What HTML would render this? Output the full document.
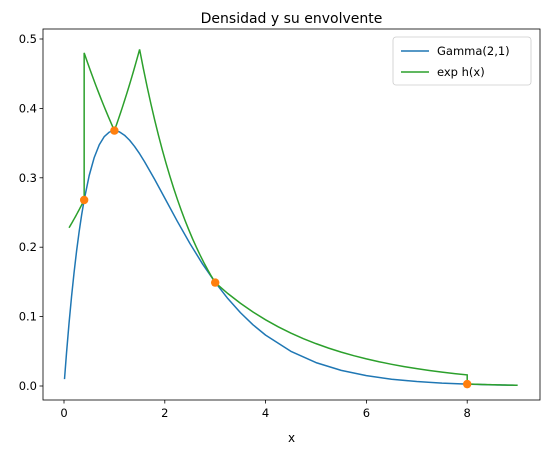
<!DOCTYPE html>
<html><head><meta charset="utf-8"><style>
body{margin:0;background:#fff}
svg text{font-family:"DejaVu Sans","Liberation Sans",sans-serif;fill:#000}
</style></head><body>
<svg id="c" width="547" height="455"></svg>
<script>
const blueX=[0.01,0.05,0.1,0.15,0.2,0.25,0.3,0.35,0.4,0.5,0.6,0.7,0.8,0.9,1.0,1.1,1.2,1.3,1.4,1.5,1.6,1.8,2.0,2.25,2.5,2.75,3.0,3.25,3.5,3.75,4.0,4.5,5.0,5.5,6,6.5,7,7.5,8,8.5,9];
const blueY=[0.0099,0.0476,0.0905,0.1291,0.1637,0.1947,0.2222,0.2466,0.2681,0.3033,0.3293,0.3476,0.3595,0.3659,0.3679,0.3662,0.3614,0.3543,0.3452,0.3347,0.3230,0.2975,0.2707,0.2371,0.2052,0.1757,0.1494,0.1260,0.1057,0.0882,0.0733,0.0500,0.0337,0.0225,0.0149,0.0098,0.0064,0.0041,0.0027,0.0017,0.0011];
const greenX=[0.1,0.4,0.4,1.0,1.5,3.0,8.0,8.0,9.0];
const greenY=[0.228,0.268,0.48,0.368,0.485,0.149,0.016,0.003,0.0011];
const ptX=[0.4,1,3,8];
const ptY=[0.268,0.368,0.149,0.0027];
const xTicks=[0,2,4,6,8];
const yTicks=[0.0,0.1,0.2,0.3,0.4,0.5];
const L=43,R=540,T=29,B=400;
const sx=x=>64+50.4*x, sy=y=>386-694*y;
const svg=document.getElementById('c');const NS='http://www.w3.org/2000/svg';
function mk(t,a,p){const e=document.createElementNS(NS,t);for(const k in a)e.setAttribute(k,a[k]);(p||svg).appendChild(e);return e;}
let e=mk('rect',{x:L,y:T,width:R-L,height:B-T,fill:'none',stroke:'#000','stroke-width':0.8});


xTicks.forEach(v=>{mk('line',{x1:sx(v),x2:sx(v),y1:B,y2:B+3.5,stroke:'#000','stroke-width':0.8});
 const t=mk('text',{x:sx(v),y:B+17,'font-size':11.5,'text-anchor':'middle'});t.textContent=v;
 
 });
yTicks.forEach(v=>{mk('line',{x1:L-3.5,x2:L,y1:sy(v),y2:sy(v),stroke:'#000','stroke-width':0.8});
 const t=mk('text',{x:L-6,y:sy(v)+4,'font-size':11.5,'text-anchor':'end'});t.textContent=v.toFixed(1);
 
 });
e=mk('text',{x:(L+R)/2,y:442,'font-size':12,'text-anchor':'middle'});e.textContent='x';


e=mk('text',{x:(L+R)/2,y:23,'font-size':14,'text-anchor':'middle'});e.textContent='Densidad y su envolvente';


e=mk('polyline',{points:blueX.map((x,i)=>sx(x)+','+sy(blueY[i])).join(' '),fill:'none',stroke:'#1f77b4','stroke-width':1.5,'stroke-linejoin':'round'});


let pts=[];
for(let i=0;i<greenX.length-1;i++){const x0=greenX[i],x1=greenX[i+1],y0=greenY[i],y1=greenY[i+1];
 const n=x1===x0?1:20;for(let k=0;k<=n;k++){const f=k/n;pts.push(sx(x0+(x1-x0)*f)+','+sy(y0*Math.pow(y1/y0,f)));}}
e=mk('polyline',{points:pts.join(' '),fill:'none',stroke:'#2ca02c','stroke-width':1.5});


ptX.forEach((x,i)=>{const c=mk('circle',{cx:sx(x),cy:sy(ptY[i]),r:4.2,fill:'#ff7f0e'});
 
 });
const g=mk('g',{});


mk('rect',{x:393,y:37,width:138,height:48,rx:3,fill:'#fff',stroke:'#ccc','stroke-width':0.8},g);
[['Gamma(2,1)','#1f77b4',51],['exp h(x)','#2ca02c',72]].forEach(([n,c,y])=>{
 mk('line',{x1:401,x2:429,y1:y,y2:y,stroke:c,'stroke-width':1.5},g);
 const t=mk('text',{x:437,y:y+4,'font-size':11.5},g);t.textContent=n;
 
 });
</script>
</body></html>
